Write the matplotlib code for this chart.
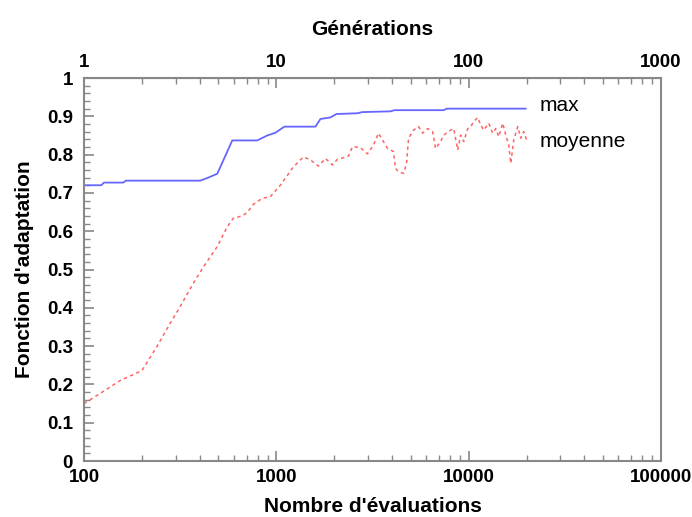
import matplotlib.pyplot as plt
from matplotlib.ticker import LogLocator, FixedLocator, MultipleLocator, NullFormatter

plt.rcParams["font.family"] = ["Liberation Sans", "DejaVu Sans"]

# courbe "max" (nombre d'evaluations, fitness)
max_eval = [100, 123, 127, 160, 165, 402, 443, 493, 590, 796, 897, 988, 1101,
            1596, 1695, 1909, 2053, 2641, 2800, 3926, 4110, 7413, 7690, 19800]
max_fit = [0.720, 0.720, 0.727, 0.727, 0.732, 0.732, 0.740, 0.750, 0.837, 0.837,
           0.850, 0.857, 0.873, 0.873, 0.893, 0.897, 0.906, 0.908, 0.911, 0.913,
           0.916, 0.916, 0.920, 0.920]

# courbe "moyenne"
moy_eval = [100, 110, 129, 154, 200, 240, 281, 316, 370, 417, 493, 556, 598, 665,
            706, 759, 845, 930, 1049, 1101, 1227, 1384, 1505, 1656, 1800, 1958,
            2079, 2234, 2371, 2488, 2738, 2979, 3200, 3398, 3566, 3786, 4066, 4165,
            4318, 4584, 4754, 4870, 5170, 5490, 5760, 6115, 6494, 6730, 7145, 7413,
            8058, 8360, 8770, 9085, 9425, 9890, 10240, 10620, 11140, 11550, 11980,
            12710, 13330, 13830, 14330, 15030, 15590, 16150, 16560, 17150, 17990,
            18660, 19330, 20030]
moy_fit = [0.150, 0.163, 0.185, 0.210, 0.236, 0.300, 0.360, 0.403, 0.464, 0.506,
           0.560, 0.612, 0.634, 0.640, 0.649, 0.670, 0.686, 0.690, 0.720, 0.735,
           0.768, 0.794, 0.786, 0.770, 0.790, 0.773, 0.788, 0.792, 0.796, 0.821,
           0.818, 0.802, 0.825, 0.856, 0.838, 0.816, 0.808, 0.764, 0.755, 0.751,
           0.777, 0.843, 0.864, 0.873, 0.856, 0.868, 0.860, 0.816, 0.834, 0.851,
           0.864, 0.868, 0.812, 0.851, 0.834, 0.868, 0.873, 0.886, 0.897, 0.877,
           0.864, 0.882, 0.856, 0.868, 0.847, 0.882, 0.851, 0.825, 0.777, 0.838,
           0.873, 0.843, 0.860, 0.838]

EVAL_PAR_GEN = 100
frame = "#888888"
TICK_FS = 13.5
LABEL_FS = 15

fig = plt.figure(figsize=(6.92, 5.17), dpi=100)
ax = fig.add_axes([0.1214, 0.1083, 0.8338, 0.7408])

ax.plot(max_eval, max_fit, "-", color="#6666ff", lw=1.3)
ax.plot(moy_eval, moy_fit, "--", color="#ff6464", lw=1.1, dashes=(2.2, 2.2))

ax.set_xscale("log")
ax.set_xlim(100, 100000)
ax.set_ylim(0, 1)
ax.yaxis.set_major_locator(MultipleLocator(0.1))
ax.yaxis.set_minor_locator(MultipleLocator(0.02))
ax.yaxis.set_major_formatter(lambda v, p: "0" if abs(v) < 1e-9 else ("1" if abs(v - 1) < 1e-9 else f"{v:.1f}"))
ax.xaxis.set_major_locator(FixedLocator([100, 1000, 10000, 100000]))
ax.xaxis.set_major_formatter(lambda v, p: f"{int(round(v))}")
ax.xaxis.set_minor_locator(LogLocator(base=10, subs=range(2, 10)))
ax.xaxis.set_minor_formatter(NullFormatter())

for s in ax.spines.values():
    s.set_color(frame)
    s.set_linewidth(1.5)

ax.tick_params(which="both", direction="in", colors=frame, labelcolor="black",
               labelsize=TICK_FS, right=False)
ax.tick_params(which="major", length=7, width=1.2)
ax.tick_params(which="minor", length=4, width=1.0)
ax.tick_params(axis="x", pad=6)
ax.tick_params(axis="y", pad=8)
for lab in ax.get_xticklabels() + ax.get_yticklabels():
    lab.set_fontweight("bold")

ax.set_xlabel("Nombre d'évaluations", fontsize=LABEL_FS, fontweight="bold", labelpad=8)
ax.set_ylabel("Fonction d'adaptation", fontsize=LABEL_FS, fontweight="bold", labelpad=9)

top = ax.secondary_xaxis("top", functions=(lambda e: e / EVAL_PAR_GEN,
                                           lambda g: g * EVAL_PAR_GEN))
top.xaxis.set_major_locator(FixedLocator([1, 10, 100, 1000]))
top.xaxis.set_major_formatter(lambda v, p: f"{int(round(v))}")
top.xaxis.set_minor_locator(LogLocator(base=10, subs=range(2, 10)))
top.xaxis.set_minor_formatter(NullFormatter())
top.tick_params(which="both", direction="in", colors=frame, labelcolor="black",
                labelsize=TICK_FS, pad=5)
top.tick_params(which="major", length=7, width=1.2)
top.tick_params(which="minor", length=4, width=1.0)
top.spines["top"].set_color(frame)
for lab in top.get_xticklabels():
    lab.set_fontweight("bold")
top.set_xlabel("Générations", fontsize=LABEL_FS, fontweight="bold", labelpad=14)

ax.text(0.79, 0.927, "max", transform=ax.transAxes, fontsize=LABEL_FS, va="center")
ax.text(0.79, 0.833, "moyenne", transform=ax.transAxes, fontsize=LABEL_FS, va="center")

fig.savefig("out.png", dpi=100)
